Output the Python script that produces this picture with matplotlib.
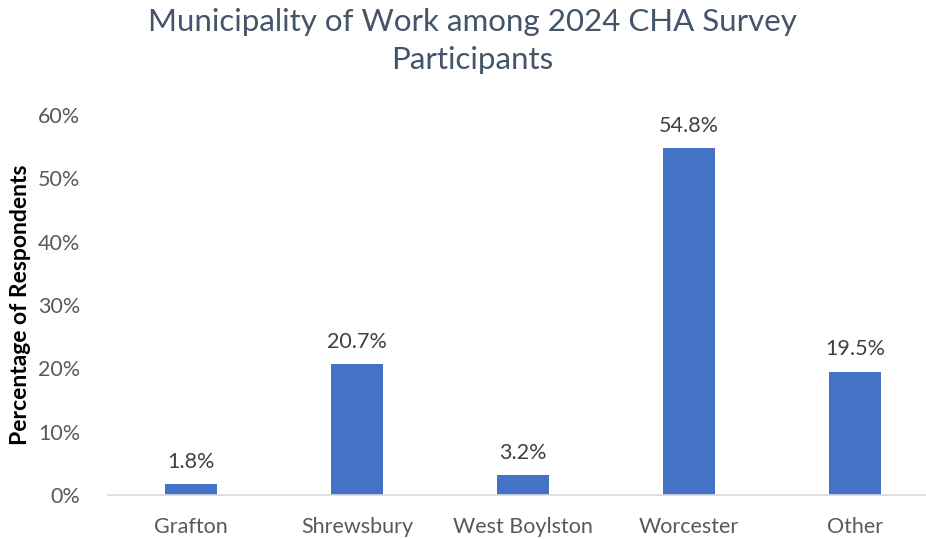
import matplotlib.pyplot as plt
from matplotlib.ticker import PercentFormatter

# Municipality of work, share of survey respondents
municipalities = ['Grafton', 'Shrewsbury', 'West Boylston', 'Worcester', 'Other']
pct = [1.8, 20.7, 3.2, 54.8, 19.5]
yticks = [0, 10, 20, 30, 40, 50, 60]

plt.rcParams['font.family'] = ['Lato', 'DejaVu Sans']

fig = plt.figure(figsize=(9.26, 5.39), dpi=100)
ax = fig.add_axes([108 / 926, 44 / 539, 830 / 926, 380 / 539])

x = range(len(municipalities))
bars = ax.bar(x, pct, width=0.31, color='#4472C4', zorder=2)

# value labels above each bar
for xi, v in zip(x, pct):
    ax.text(xi, v + 1.9, f'{v:.1f}%', ha='center', va='bottom',
            fontsize=15.5, color='#404040')

ax.set_xlim(-0.5, len(municipalities) - 0.5)
ax.set_ylim(0, 60)
ax.set_yticks(yticks)
ax.yaxis.set_major_formatter(PercentFormatter(decimals=0))
ax.set_xticks(list(x))
ax.set_xticklabels(municipalities)
ax.tick_params(axis='both', length=0, labelsize=15.5, colors='#595959')
ax.tick_params(axis='x', pad=16)
ax.tick_params(axis='y', pad=20)

for side in ['top', 'right', 'left']:
    ax.spines[side].set_visible(False)
ax.spines['bottom'].set_color('#D9D9D9')
ax.spines['bottom'].set_linewidth(1.2)

ax.set_ylabel('Percentage of Respondents', fontsize=16.5, fontweight='bold',
              color='black', va='center')
ax.yaxis.set_label_coords(-0.105, 0.5)

fig.suptitle('Municipality of Work among 2024 CHA Survey\nParticipants',
             x=0.51, y=0.985, fontsize=22.5, color='#44546A', linespacing=1.45)

plt.savefig('out.png', dpi=100)
